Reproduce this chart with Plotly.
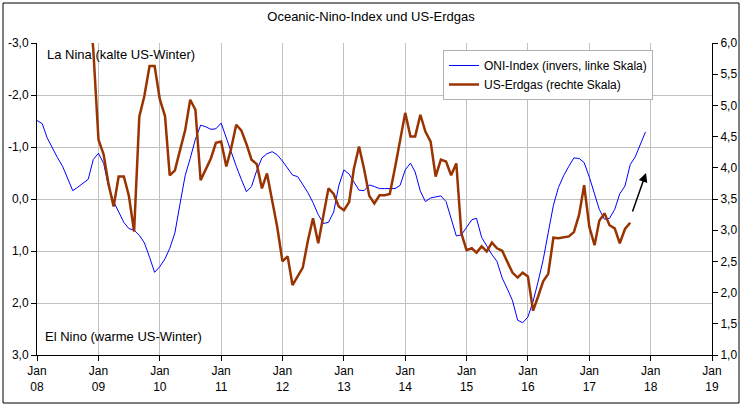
import pandas as pd
import plotly.graph_objects as go

# ONI (3-month mean), monthly from Jan 2008, plotted on an inverted left axis
oni_start = "2008-01-01"
oni_values = [
    -1.51, -1.45, -1.18, -0.98, -0.80, -0.63, -0.38, -0.16, -0.23, -0.30, -0.38, -0.76,  # 2008
    -0.88, -0.68, -0.25, 0.05, 0.25, 0.45, 0.57, 0.60, 0.70, 0.84, 1.12, 1.41,  # 2009
    1.30, 1.15, 0.95, 0.65, 0.10, -0.45, -0.78, -1.15, -1.42, -1.39, -1.34, -1.35,  # 2010
    -1.46, -1.17, -0.90, -0.63, -0.38, -0.14, -0.24, -0.55, -0.79, -0.87, -0.91, -0.85,  # 2011
    -0.73, -0.58, -0.46, -0.43, -0.28, -0.12, 0.07, 0.30, 0.47, 0.45, 0.25, -0.25,  # 2012
    -0.56, -0.48, -0.33, -0.17, -0.16, -0.27, -0.24, -0.20, -0.20, -0.20, -0.20, -0.26,  # 2013
    -0.56, -0.69, -0.52, -0.15, 0.05, -0.02, -0.04, -0.06, 0.05, 0.38, 0.71, 0.69,  # 2014
    0.55, 0.40, 0.37, 0.74, 0.90, 1.07, 1.20, 1.52, 1.73, 1.95, 2.33, 2.38,  # 2015
    2.27, 1.97, 1.60, 1.17, 0.65, 0.12, -0.22, -0.45, -0.63, -0.79, -0.78, -0.70,  # 2016
    -0.42, -0.10, 0.20, 0.39, 0.37, 0.20, -0.10, -0.25, -0.66, -0.81, -1.05, -1.29,  # 2017
]

# US natural gas price (USD), monthly from Nov 2008, right axis
gas_start = "2008-11-01"
gas_values = [
    6.80, 5.90,  # Nov-Dec 2008
    4.45, 4.21, 3.75, 3.38, 3.86, 3.86, 3.55, 2.98, 4.82, 5.15, 5.63, 5.63,  # 2009
    5.10, 4.83, 3.88, 3.96, 4.28, 4.60, 5.09, 4.93, 3.80, 3.98, 4.15, 4.40,  # 2010
    4.42, 4.02, 4.30, 4.69, 4.60, 4.38, 4.13, 4.06, 3.67, 3.91, 3.47, 3.05,  # 2011
    2.50, 2.58, 2.12, 2.27, 2.40, 2.84, 3.19, 2.79, 3.22, 3.67, 3.58, 3.38,  # 2012
    3.32, 3.45, 3.98, 4.34, 3.98, 3.55, 3.43, 3.56, 3.56, 3.58, 4.00, 4.45,  # 2013
    4.88, 4.50, 4.50, 4.85, 4.58, 4.42, 3.86, 4.13, 4.10, 3.88, 4.07, 2.95,  # 2014
    2.68, 2.71, 2.64, 2.74, 2.66, 2.80, 2.71, 2.67, 2.50, 2.32, 2.24, 2.32,  # 2015
    2.26, 1.71, 1.93, 2.18, 2.30, 2.88, 2.87, 2.88, 2.90, 2.97, 3.25, 3.72,  # 2016
    3.05, 2.76, 3.15, 3.27, 3.08, 3.03, 2.79, 3.02, 3.12,  # 2017
]

x_ticks = [f"{y}-01-01" for y in range(2008, 2020)]
left_ticks = [-3, -2, -1, 0, 1, 2, 3]
left_labels = ["-3,0", "-2,0", "-1,0", "0,0", "1,0", "2,0", "3,0"]
right_ticks = [1.0, 1.5, 2.0, 2.5, 3.0, 3.5, 4.0, 4.5, 5.0, 5.5, 6.0]
right_labels = ["1,0", "1,5", "2,0", "2,5", "3,0", "3,5", "4,0", "4,5", "5,0", "5,5", "6,0"]

oni_dates = pd.date_range(oni_start, periods=len(oni_values), freq="MS")
gas_dates = pd.date_range(gas_start, periods=len(gas_values), freq="MS")

FONT = "Liberation Sans, Arial, sans-serif"

fig = go.Figure()
fig.add_trace(go.Scatter(x=oni_dates, y=oni_values, mode="lines",
                         name="ONI-Index (invers, linke Skala)",
                         line=dict(color="#0000ff", width=1), yaxis="y"))
fig.add_trace(go.Scatter(x=gas_dates, y=gas_values, mode="lines",
                         name="US-Erdgas (rechte Skala)",
                         line=dict(color="#993300", width=2.5), yaxis="y2"))

fig.update_layout(
    width=742, height=406,
    margin=dict(l=37, r=30, t=43, b=51, autoexpand=False),
    paper_bgcolor="white", plot_bgcolor="white",
    font=dict(family=FONT, size=12, color="black"),
    title=dict(text="Oceanic-Nino-Index und US-Erdgas", x=0.5, xanchor="center",
               y=1 - 16 / 406, yanchor="middle", font=dict(size=13, color="black")),
    showlegend=True,
    legend=dict(x=(443 - 37) / 675, y=(355 - 50) / 312, xanchor="left", yanchor="top",
                bordercolor="#b0b0b0", borderwidth=1, bgcolor="white",
                font=dict(size=12), tracegroupgap=0, itemwidth=30),
    xaxis=dict(type="date", range=["2008-01-01", "2019-01-01"], automargin=False,
               tickmode="array", tickvals=x_ticks, tickformat="%b<br>%y",
               ticks="outside", ticklen=5, tickcolor="black",
               showline=True, linecolor="black", linewidth=1,
               showgrid=True, gridcolor="#c0c0c0", gridwidth=1,
               zeroline=False, tickfont=dict(size=12)),
    yaxis=dict(range=[3, -3], tickmode="array", tickvals=left_ticks, ticktext=left_labels,
               automargin=False,
               ticks="outside", ticklen=5, tickcolor="black",
               showline=True, linecolor="black", linewidth=1,
               showgrid=True, gridcolor="#c0c0c0", gridwidth=1,
               zeroline=False, tickfont=dict(size=12)),
    yaxis2=dict(range=[1, 6], overlaying="y", side="right", automargin=False,
                tickmode="array", tickvals=right_ticks, ticktext=right_labels,
                ticks="outside", ticklen=5, tickcolor="black",
                showline=True, linecolor="black", linewidth=1,
                showgrid=False, zeroline=False, tickfont=dict(size=12)),
    annotations=[
        dict(text="La Nina (kalte US-Winter)", xref="paper", yref="paper",
             x=(45 - 37) / 675, y=(355 - 54) / 312, xanchor="left", yanchor="middle",
             showarrow=False, font=dict(size=13)),
        dict(text="El Nino (warme US-Winter)", xref="paper", yref="paper",
             x=(43 - 37) / 675, y=(355 - 336) / 312, xanchor="left", yanchor="middle",
             showarrow=False, font=dict(size=13)),
        dict(text="", xref="paper", yref="paper",
             x=(646 - 37) / 675, y=(355 - 173) / 312,
             ax=-14, ay=40, axref="pixel", ayref="pixel",
             showarrow=True, arrowhead=2, arrowsize=1.2, arrowwidth=1.5,
             arrowcolor="black"),
    ],
    shapes=[
        dict(type="rect", xref="paper", yref="paper",
             x0=(3 - 37) / 675, x1=(739 - 37) / 675,
             y0=(355 - 403) / 312, y1=(355 - 3) / 312,
             line=dict(color="black", width=1), fillcolor="rgba(0,0,0,0)",
             layer="below"),
    ],
)

fig.write_html("out.html", config={"displayModeBar": False},
               post_script="document.body.style.margin='0';document.body.style.overflow='hidden';")
